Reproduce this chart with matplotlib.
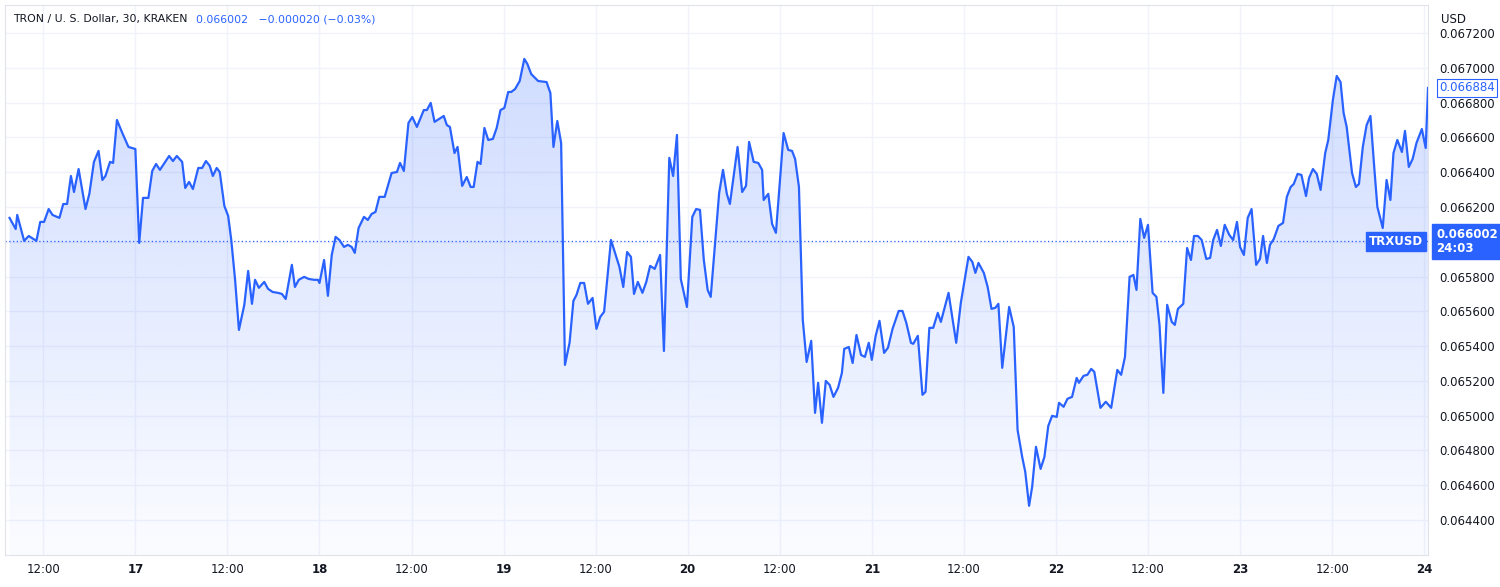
import numpy as np
import matplotlib
matplotlib.use("Agg")
import matplotlib.pyplot as plt
from matplotlib.patches import Polygon

# hours since 16 Jun 00:00, 30-min TRX/USD close (1e-6 USD)
hours = [7.6, 8.4, 8.6, 9.5, 10.1, 11.1, 11.6, 12.1, 12.7, 13.2, 14.1, 14.6, 15.1, 15.6, 16.0, 16.6, 17.5, 18.0,
         18.6, 19.2, 19.7, 20.1, 20.7, 21.1, 21.6, 22.3, 23.1, 24.0, 24.5, 25.0, 25.7, 26.2, 26.7, 27.2, 28.4, 28.9,
         29.4, 30.1, 30.5, 31.0, 31.5, 32.2, 32.7, 33.2, 33.7, 34.1, 34.6, 35.0, 35.6, 36.1, 36.5, 37.0, 37.5, 38.2,
         38.7, 39.2, 39.6, 40.1, 40.8, 41.3, 41.9, 42.6, 43.1, 43.6, 44.4, 44.8, 45.3, 46.0, 46.6, 47.3, 47.8, 48.0,
         48.6, 49.1, 49.6, 50.1, 50.6, 51.2, 51.7, 52.2, 52.6, 53.1, 53.8, 54.3, 54.8, 55.3, 55.8, 56.5, 57.4, 58.1,
         58.5, 59.0, 59.6, 60.1, 60.7, 61.6, 62.0, 62.5, 63.0, 64.2, 64.6, 65.0, 65.6, 66.0, 66.6, 67.2, 67.7, 68.1,
         68.6, 69.0, 69.5, 70.0, 70.6, 71.1, 71.6, 72.1, 72.6, 73.0, 73.5, 74.1, 74.7, 75.1, 75.6, 76.5, 77.6, 78.1,
         78.5, 79.0, 79.5, 80.0, 80.6, 81.1, 81.5, 82.0, 82.5, 83.0, 83.6, 84.1, 84.6, 85.1, 86.0, 87.1, 87.6, 88.1,
         88.6, 89.0, 89.5, 90.1, 90.6, 91.1, 91.7, 92.4, 92.9, 93.6, 94.1, 94.6, 95.1, 95.9, 96.6, 97.1, 97.6, 98.1,
         98.6, 99.0, 100.1, 100.6, 101.1, 101.5, 102.5, 103.1, 103.6, 104.0, 104.6, 105.2, 105.7, 105.9, 106.5, 107.0,
         107.5, 108.5, 109.1, 109.6, 110.0, 110.5, 111.0, 111.5, 112.1, 112.6, 113.0, 113.5, 114.0, 114.5, 115.0,
         115.6, 116.1, 116.4, 117.0, 117.5, 118.0, 118.6, 119.1, 119.6, 120.0, 120.5, 121.0, 121.6, 122.1, 122.7,
         123.5, 124.0, 124.5, 125.1, 125.4, 126.0, 126.6, 127.0, 127.5, 128.0, 128.6, 129.0, 130.0, 131.0, 131.6,
         132.6, 133.1, 133.5, 133.9, 134.6, 135.1, 135.6, 136.1, 136.5, 137.0, 137.9, 138.5, 139.0, 139.6, 140.0,
         140.5, 140.9, 141.4, 142.0, 142.5, 143.0, 143.5, 144.1, 144.4, 145.0, 145.5, 146.1, 146.7, 147.0, 147.6,
         148.1, 148.6, 149.0, 149.8, 150.5, 151.2, 152.0, 152.5, 153.0, 153.6, 154.1, 154.5, 155.0, 155.5, 156.0,
         156.6, 157.1, 157.5, 158.0, 158.5, 159.1, 159.5, 159.9, 160.6, 161.1, 161.6, 162.0, 162.5, 163.0, 163.6,
         164.1, 164.5, 165.0, 165.5, 166.0, 166.6, 167.1, 167.6, 168.0, 168.5, 169.0, 169.5, 170.1, 170.6, 171.0,
         171.5, 171.9, 172.4, 173.0, 173.6, 174.1, 174.6, 175.0, 175.5, 176.0, 176.6, 177.0, 177.5, 178.0, 178.5,
         179.1, 179.5, 180.1, 180.6, 181.1, 181.5, 181.9, 182.6, 183.1, 183.5, 184.0, 184.5, 185.0, 185.5, 185.9,
         186.6, 187.1, 187.6, 188.0, 188.5, 189.1, 189.5, 190.0, 190.5, 191.0, 191.7, 192.2, 192.5]
price = [66137, 66073, 66154, 66005, 66033, 66005, 66114, 66114, 66188, 66154, 66137, 66217, 66217, 66378, 66286,
         66418, 66188, 66275, 66459, 66522, 66355, 66378, 66459, 66453, 66700, 66625, 66545, 66533, 65993, 66252,
         66252, 66407, 66447, 66413, 66493, 66464, 66493, 66459, 66309, 66344, 66303, 66424, 66424, 66464, 66436,
         66378, 66424, 66401, 66206, 66148, 66010, 65781, 65493, 65637, 65832, 65643, 65781, 65735, 65769, 65729,
         65711, 65706, 65700, 65671, 65867, 65740, 65781, 65798, 65786, 65781, 65781, 65763, 65895, 65689, 65924,
         66028, 66010, 65970, 65982, 65970, 65936, 66079, 66143, 66125, 66160, 66171, 66258, 66258, 66395, 66401,
         66453, 66407, 66683, 66717, 66660, 66757, 66757, 66798, 66689, 66723, 66671, 66660, 66510, 66545, 66321,
         66372, 66315, 66315, 66459, 66447, 66654, 66585, 66591, 66654, 66757, 66769, 66861, 66861, 66878, 66924,
         67051, 67022, 66964, 66924, 66918, 66855, 66545, 66694, 66568, 65292, 65419, 65660, 65694, 65763, 65763,
         65643, 65677, 65499, 65568, 65597, 66010, 65855, 65740, 65941, 65913, 65700, 65769, 65706, 65769, 65861,
         65844, 65924, 65372, 66482, 66378, 66614, 65786, 65625, 66143, 66188, 66183, 65895, 65723, 65683, 66281,
         66413, 66275, 66217, 66545, 66286, 66321, 66574, 66459, 66453, 66413, 66240, 66275, 66102, 66051, 66625,
         66528, 66522, 66476, 66315, 65551, 65309, 65430, 65016, 65189, 64959, 65200, 65177, 65108, 65160, 65246,
         65384, 65395, 65303, 65464, 65349, 65338, 65419, 65321, 65459, 65545, 65361, 65390, 65499, 65602, 65602,
         65533, 65419, 65413, 65459, 65120, 65137, 65505, 65505, 65591, 65539, 65706, 65419, 65648, 65913, 65884,
         65821, 65878, 65821, 65740, 65614, 65620, 65643, 65275, 65625, 65510, 64918, 64763, 64677, 64482, 64591,
         64821, 64694, 64763, 64941, 64999, 64993, 65074, 65051, 65097, 65108, 65217, 65189, 65229, 65235, 65269,
         65252, 65045, 65080, 65045, 65263, 65235, 65338, 65798, 65809, 65723, 66131, 66022, 66097, 65706, 65683,
         65522, 65131, 65637, 65539, 65522, 65614, 65643, 65964, 65895, 66033, 66033, 66010, 65901, 65907, 66010,
         66068, 65976, 66097, 66039, 66010, 66114, 65970, 65924, 66137, 66188, 65867, 65901, 66033, 65878, 65982,
         66016, 66091, 66108, 66258, 66315, 66332, 66390, 66384, 66263, 66367, 66418, 66390, 66298, 66510, 66585,
         66815, 66953, 66918, 66740, 66660, 66395, 66315, 66332, 66545, 66671, 66723, 66424, 66200, 66079, 66355,
         66240, 66510, 66585, 66516, 66637, 66430, 66476, 66568, 66648, 66539, 66884]

last_close = 0.066002
last_tick = 0.066884
tick_hours = [12, 24, 36, 48, 60, 72, 84, 96, 108, 120, 132, 144, 156, 168, 180, 192]
tick_labels = ["12:00", "17", "12:00", "18", "12:00", "19", "12:00", "20", "12:00", "21",
               "12:00", "22", "12:00", "23", "12:00", "24"]
y_ticks = [0.0644 + 0.0002 * i for i in range(15)]

BLUE = "#2962ff"
TXT = "#131722"
GRID = "#f0f3fa"

t = np.array(hours)
p = np.array(price) * 1e-6
ymin, ymax = 0.064199, 0.067361
xmin, xmax = 7.0, 192.5

fig = plt.figure(figsize=(15, 5.87), dpi=100)
ax = fig.add_axes([0.0033, 0.0545, 0.9487, 0.937])
ax.set_xlim(xmin, xmax); ax.set_ylim(ymin, ymax)

for yt in y_ticks:
    ax.axhline(yt, color=GRID, lw=1, zorder=0)
for xt in tick_hours:
    ax.axvline(xt, color=GRID, lw=1, zorder=0)

# gradient area fill
grad = np.linspace(0.22, 0.02, 256).reshape(-1, 1)
rgba = np.zeros((256, 1, 4)); rgba[..., :3] = matplotlib.colors.to_rgb(BLUE); rgba[..., 3] = grad
im = ax.imshow(rgba, extent=(xmin, xmax, ymin, p.max()), aspect="auto", origin="upper", zorder=1)
poly = Polygon(np.column_stack([np.r_[t[0], t, t[-1]], np.r_[ymin, p, ymin]]), closed=True,
               transform=ax.transData, facecolor="none", edgecolor="none")
ax.add_patch(poly); im.set_clip_path(poly)
ax.set_ylim(ymin, ymax)

ax.plot(t, p, color=BLUE, lw=1.6, zorder=3)
ax.axhline(last_close, color=BLUE, lw=0.9, ls=(0, (1, 2)), zorder=2)

ax.set_xticks(tick_hours)
ax.set_xticklabels(tick_labels, fontsize=8.5, color=TXT)
for lab in ax.get_xticklabels():
    if ":" not in lab.get_text():
        lab.set_fontweight("bold")
ax.tick_params(axis="x", length=0, pad=6)
ax.yaxis.tick_right()
ax.set_yticks(y_ticks)
# the 0.066000 label sits under the last-price box
ax.set_yticklabels(["" if abs(v - 0.066) < 1e-9 else f"{v:.6f}" for v in y_ticks], fontsize=8.5, color=TXT)
ax.tick_params(axis="y", length=0, pad=8)
for s in ax.spines.values():
    s.set_color("#e0e3eb")

ax.text(1.009, 0.985, "USD", transform=ax.transAxes, fontsize=8.5, color=TXT, va="top")
ax.text(1.008, last_tick, "0.066884", transform=ax.get_yaxis_transform(), fontsize=8.5, color=BLUE, va="center",
        bbox=dict(boxstyle="square,pad=0.2", fc="white", ec=BLUE, lw=0.8))
ax.text(1.006, last_close, "0.066002\n24:03", transform=ax.get_yaxis_transform(), fontsize=8.5, color="white",
        fontweight="bold", va="center", linespacing=1.1,
        bbox=dict(boxstyle="square,pad=0.35", fc=BLUE, ec=BLUE))
ax.text(0.9965, last_close, "TRXUSD", transform=ax.get_yaxis_transform(), fontsize=8.5, color="white",
        fontweight="bold", va="center", ha="right",
        bbox=dict(boxstyle="square,pad=0.25", fc=BLUE, ec=BLUE))

fig.text(0.009, 0.967, "TRON / U. S. Dollar, 30, KRAKEN", fontsize=7.8, color=TXT, va="center")
fig.text(0.1305, 0.967, "0.066002   \u22120.000020 (\u22120.03%)", fontsize=7.8, color=BLUE, va="center")

fig.savefig("out.png", dpi=100)
